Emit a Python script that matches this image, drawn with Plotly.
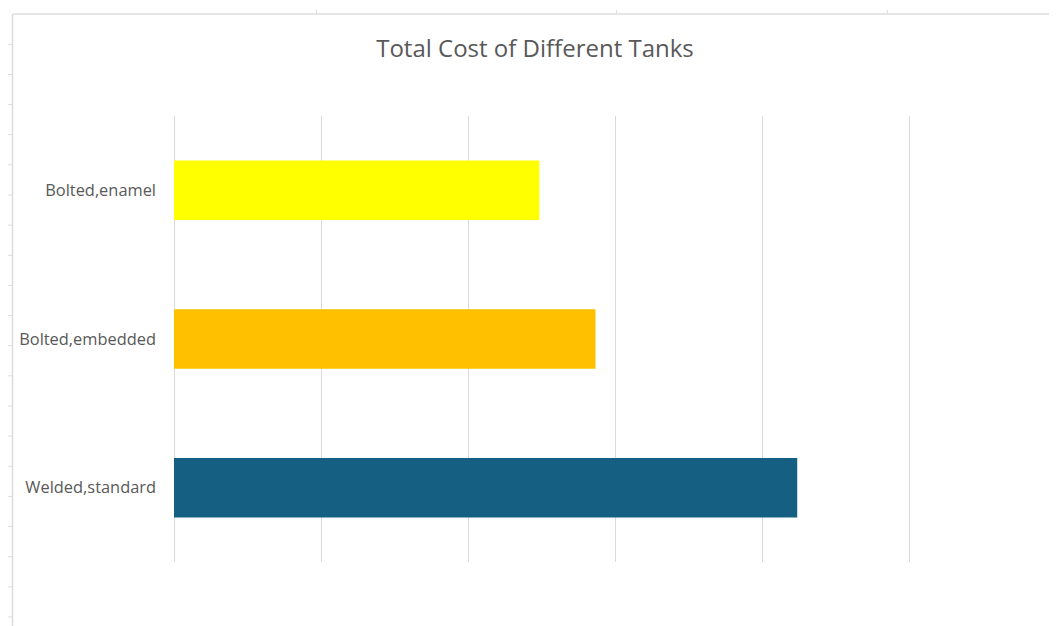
import plotly.graph_objects as go

categories = ["Bolted,enamel", "Bolted,embedded", "Welded,standard"]
values = [2.483, 2.865, 4.236]
bar_colors = ["#FFFF00", "#FFC000", "#156082"]
title_text = "Total Cost of Different Tanks"

W, H = 1057, 626
OFF = 8  # page body offset
XMAX = 5.05
# target plot area in page pixels (value 0 at 173.5, value 5 at 909.3)
PX0, PY0, PY1 = 173.5, 116, 562
PX1 = PX0 + (909.3 - PX0) * XMAX / 5
L = PX0 - OFF
R = W + OFF - PX1
T = PY0 - OFF
B = H + OFF - PY1
pw, ph = W - L - R, H - T - B

def px_x(p):
    return (p - OFF - L) / pw

def px_y(p):
    return (H - B - (p - OFF)) / ph

fig = go.Figure()
fig.add_trace(go.Bar(
    y=categories, x=values, orientation="h",
    marker=dict(color=bar_colors, line=dict(width=0)),
    hoverinfo="x+y",
))

grid_col = "#D9D9D9"
shapes = []
# spreadsheet frame decoration
shapes.append(dict(type="line", xref="paper", yref="paper",
                   x0=px_x(12), x1=px_x(W + OFF), y0=px_y(14), y1=px_y(14),
                   line=dict(color="#DCDCDC", width=1.5)))
shapes.append(dict(type="line", xref="paper", yref="paper",
                   x0=px_x(12), x1=px_x(12), y0=px_y(14), y1=px_y(H + OFF),
                   line=dict(color="#DCDCDC", width=1.5)))
for k in range(20):
    yy = 44.3 + 30.14 * k
    shapes.append(dict(type="line", xref="paper", yref="paper",
                       x0=px_x(6), x1=px_x(12), y0=px_y(yy), y1=px_y(yy),
                       line=dict(color="#DCDCDC", width=1)))
for xx in [316, 616, 887]:
    shapes.append(dict(type="line", xref="paper", yref="paper",
                       x0=px_x(xx), x1=px_x(xx), y0=px_y(10), y1=px_y(14),
                       line=dict(color="#DCDCDC", width=1)))

fig.update_layout(
    width=W, height=H,
    margin=dict(l=L, r=R, t=T, b=B, autoexpand=False),
    paper_bgcolor="white", plot_bgcolor="white",
    showlegend=False,
    bargap=0.6,
    title=dict(text=title_text, x=(535 - OFF) / W, xanchor="center",
               y=1 - (49 - OFF) / H, yanchor="middle",
               font=dict(family="Open Sans, sans-serif", size=24, color="#595959")),
    xaxis=dict(range=[0, XMAX], tickmode="array", tickvals=[0, 1, 2, 3, 4, 5],
               showgrid=True, gridcolor=grid_col, gridwidth=1,
               showticklabels=False, zeroline=True, zerolinecolor=grid_col, zerolinewidth=1,
               showline=False, ticks="", fixedrange=True),
    yaxis=dict(autorange="reversed", showgrid=False, zeroline=False, showline=False,
               ticks="", ticklabelstandoff=17,
               tickfont=dict(family="Open Sans, sans-serif", size=16.4, color="#595959")),
    shapes=shapes,
)

fig.write_html("out.html")
